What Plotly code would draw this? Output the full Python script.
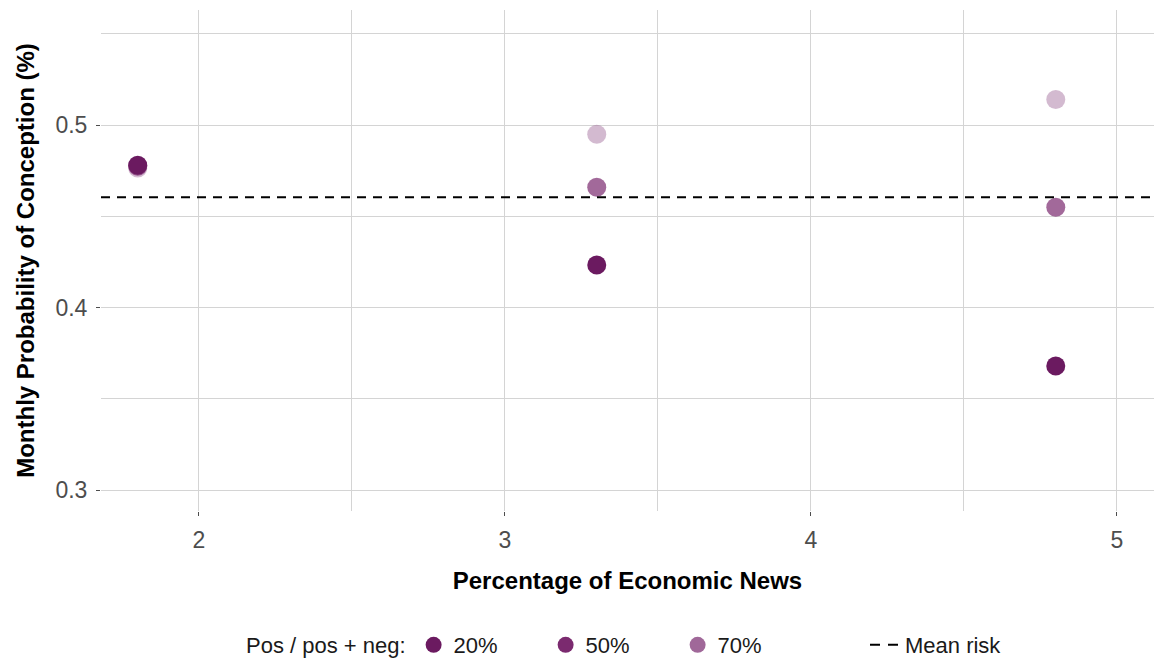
import plotly.graph_objects as go

# Share of economic news coverage (%) and conception probability per tone mix
news_pct = [1.8, 3.3, 4.8]
prob_20 = [0.478, 0.4233, 0.368]
prob_50 = [0.4775, 0.466, 0.455]
prob_70 = [0.4765, 0.495, 0.514]
mean_risk = 0.4605

levels = ["20%", "50%", "70%"]
series = {"20%": prob_20, "50%": prob_50, "70%": prob_70}
base_colors = {"20%": "#6b1a60", "50%": "#7b2a6f", "70%": "#a06899"}
point_alpha = {"20%": 1.0, "50%": 0.7, "70%": 0.46}


def rgba(hex_color, a):
    h = hex_color.lstrip("#")
    r, g, b = int(h[0:2], 16), int(h[2:4], 16), int(h[4:6], 16)
    return f"rgba({r},{g},{b},{a})"


fig = go.Figure()

# Points: lightest drawn first so the darkest sits on top
for lv in reversed(levels):
    fig.add_trace(go.Scatter(
        x=news_pct, y=series[lv], mode="markers",
        marker=dict(size=19, color=rgba(base_colors[lv], point_alpha[lv]), line=dict(width=0)),
        showlegend=False, hoverinfo="x+y", name=lv,
    ))

# Legend keys for the tone mix
for lv in levels:
    fig.add_trace(go.Scatter(
        x=[None], y=[None], mode="markers", name=lv,
        marker=dict(size=18, color=base_colors[lv]), legend="legend",
    ))

# Mean risk reference line
fig.add_hline(y=mean_risk, line=dict(color="black", width=2, dash="9px,7px"), layer="above")
fig.add_trace(go.Scatter(
    x=[None], y=[None], mode="lines", name="Mean risk",
    line=dict(color="black", width=2, dash="10px,8px"), legend="legend2",
))

grid = "#d4d4d4"
family = "Liberation Sans, Arial, sans-serif"
tickfont = dict(family=family, size=23, color="#4d4d4d")
titlefont = dict(family=family, size=24, color="black", weight="bold")
legfont = dict(family=family, size=22, color="#1a1a1a")

fig.update_layout(
    width=1154, height=659,
    margin=dict(l=101, r=0, t=10, b=148),
    plot_bgcolor="white", paper_bgcolor="white",
    font=dict(family=family, color="#1a1a1a"),
    xaxis=dict(
        range=[1.68, 5.121], tickmode="array", tickvals=[2, 3, 4, 5], ticktext=["2", "3", "4", "5"],
        showgrid=True, gridcolor=grid, gridwidth=1.4, zeroline=False, showline=False,
        ticks="outside", ticklen=4, tickcolor="#4d4d4d", tickwidth=1, ticklabelstandoff=4,
        minor=dict(tickvals=[1.5, 2.5, 3.5, 4.5], showgrid=True, gridcolor=grid, gridwidth=1.4, ticks=""),
        tickfont=tickfont,
        title=dict(text="Percentage of Economic News", font=titlefont, standoff=20),
    ),
    yaxis=dict(
        range=[0.2885, 0.5631], tickmode="array", tickvals=[0.3, 0.4, 0.5], ticktext=["0.3", "0.4", "0.5"],
        showgrid=True, gridcolor=grid, gridwidth=1.4, zeroline=False, showline=False,
        ticks="outside", ticklen=4, tickcolor="#4d4d4d", tickwidth=1, ticklabelstandoff=4,
        minor=dict(tickvals=[0.35, 0.45, 0.55], showgrid=True, gridcolor=grid, gridwidth=1.4, ticks=""),
        tickfont=tickfont,
        title=dict(text="Monthly Probability of Conception (%)", font=titlefont, standoff=14),
    ),
    legend=dict(
        orientation="h", xref="container", yref="container",
        x=244 / 1154, y=1 - 645 / 659, xanchor="left", yanchor="middle",
        title=dict(text="Pos / pos + neg:", side="left", font=legfont),
        font=legfont, entrywidth=87, bgcolor="rgba(0,0,0,0)",
    ),
    legend2=dict(
        orientation="h", xref="container", yref="container",
        x=865 / 1154, y=1 - 645 / 659, xanchor="left", yanchor="middle",
        font=legfont, bgcolor="rgba(0,0,0,0)",
    ),
)

fig.write_html("out.html")
